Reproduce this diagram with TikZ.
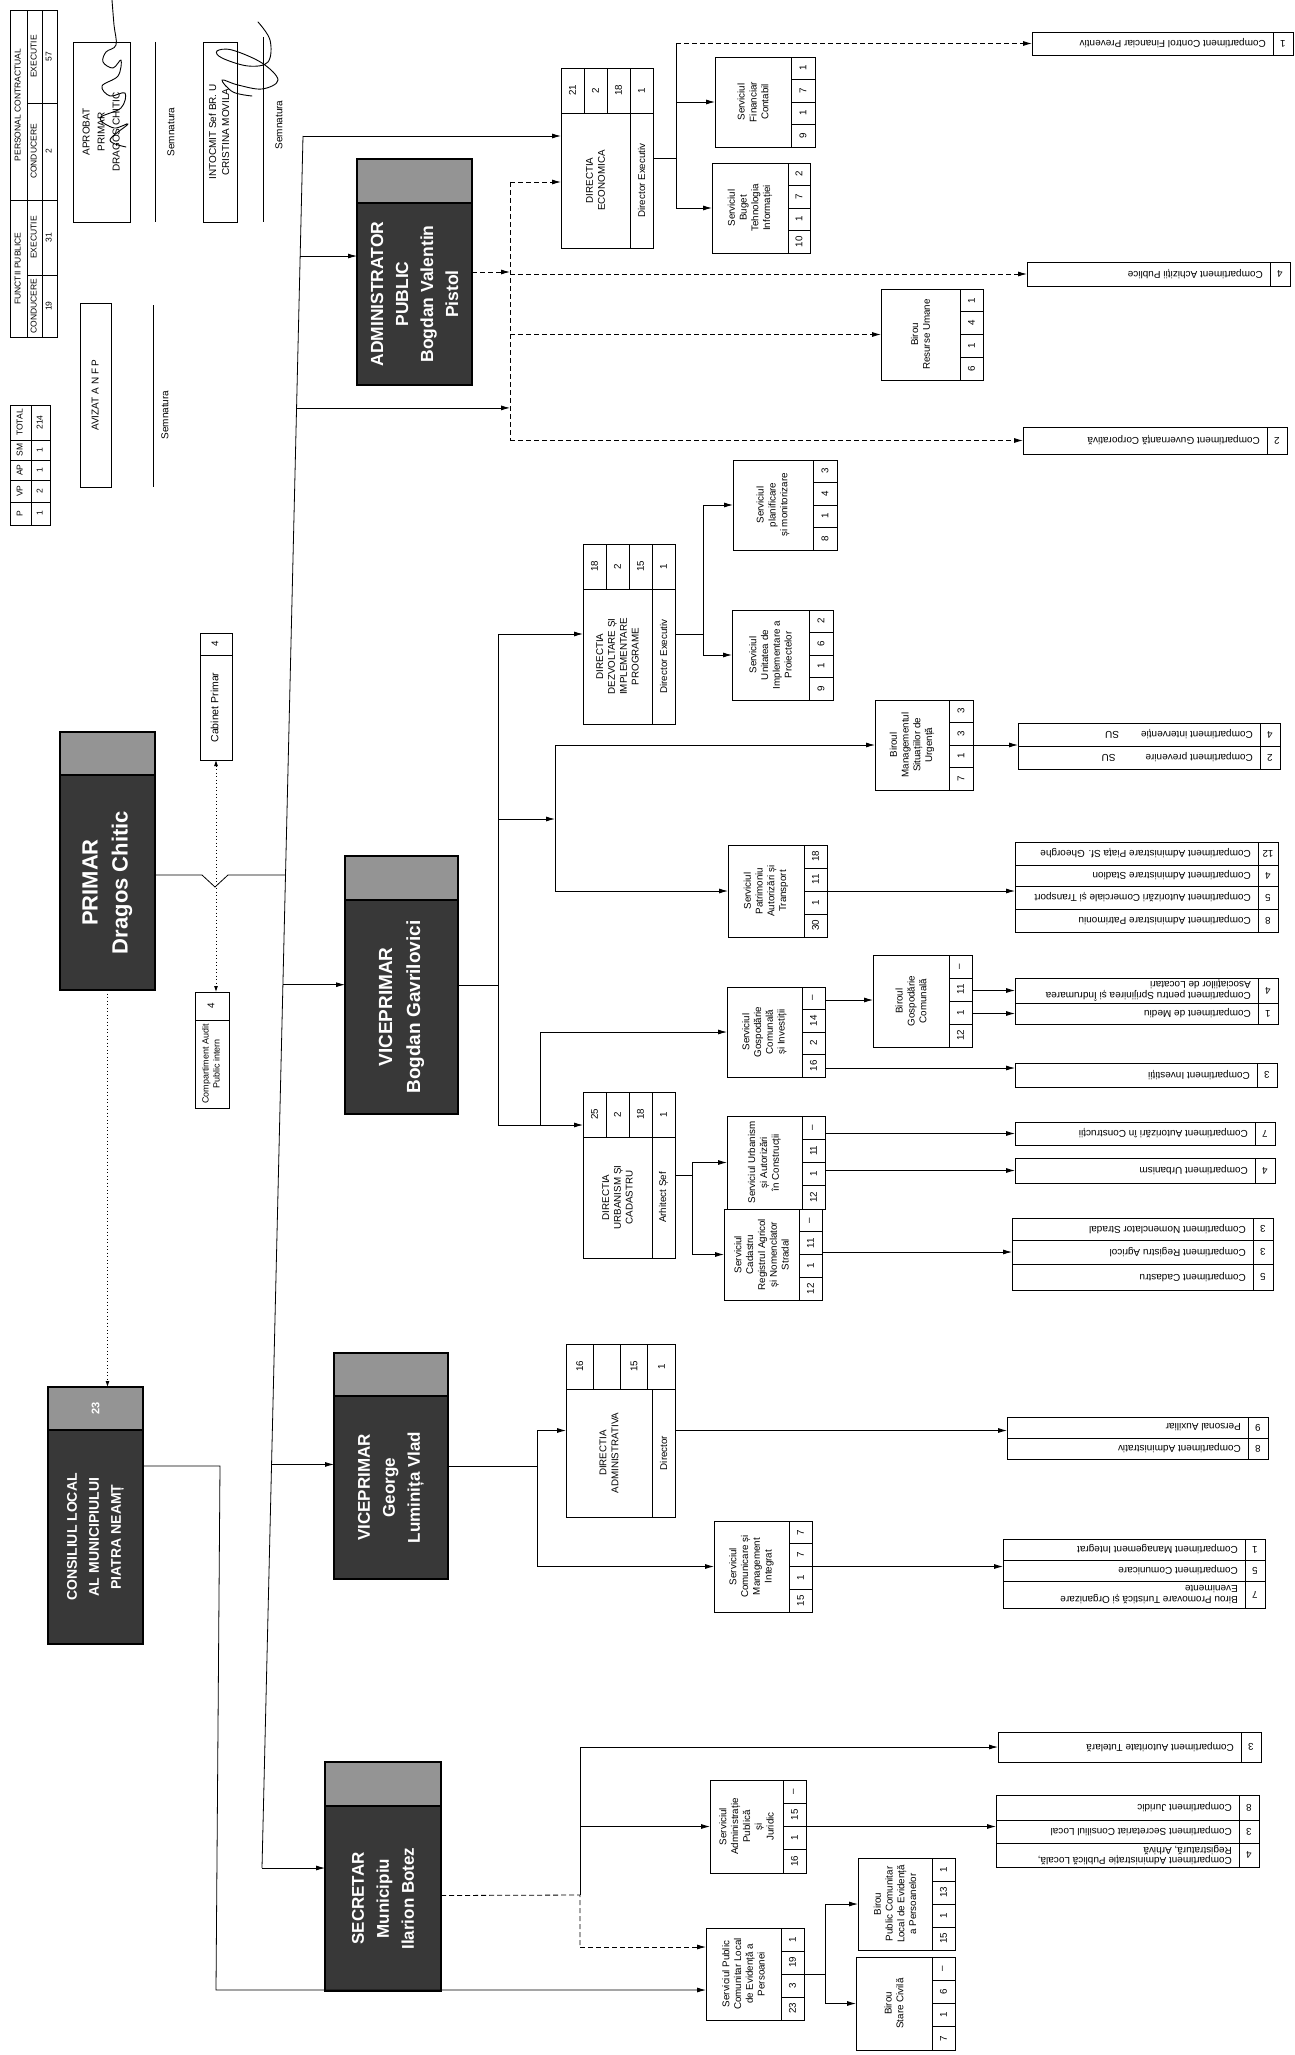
\documentclass[tikz,border=0pt]{standalone}
\usepackage{fontspec}
\setmainfont{Liberation Sans}
\usetikzlibrary{arrows.meta, calc}

\newcommand{\svcfont}{\fontsize{9.8}{11.8}\selectfont}
\newcommand{\compfont}{\fontsize{10}{10.5}\selectfont}
\newcommand{\numfont}{\fontsize{9.8}{11}\selectfont}
\newcommand{\tabfont}{\fontsize{8.5}{10}\selectfont}
\newcommand{\signfont}{\fontsize{10}{15}\selectfont}

\tikzset{
  box/.style={draw, line width=0.7pt, inner sep=0pt, outer sep=0pt},
  numcell/.style={box, font=\numfont},
  lbl/.style={rotate=90, align=center, font=\svcfont, inner sep=0pt},
  clbl/.style={rotate=180, anchor=west, align=left, font=\compfont, inner sep=0pt},
  leadbox/.style={box, fill=black!78, line width=1.2pt},
  leadhead/.style={box, fill=black!42, text=white, font=\bfseries\fontsize{11}{13}\selectfont, line width=1.2pt},
  leadtxt/.style={rotate=90, align=center, text=white, inner sep=0pt},
  conn/.style={line width=0.8pt},
  arr/.style={conn, -{Latex[length=9pt, width=5pt]}},
  dsh/.style={conn, dash pattern=on 5pt off 3pt},
  darr/.style={dsh, -{Latex[length=9pt, width=5pt]}},
  dotl/.style={conn, dash pattern=on 1pt off 2.5pt},
  sig/.style={line width=0.9pt, line cap=round, line join=round},
}

% plain cell, rotated text: [opts]{name}{x1}{y1}{x2}{y2}{text}
\newcommand{\cellbox}[7][]{%
  \node[box, anchor=north west, minimum width={#5-#3}, minimum height={#6-#4}, #1]
    (#2) at (#3,#4) {\rotatebox{90}{\begin{tabular}{@{}c@{}}#7\end{tabular}}};}

% service box with number column: {name}{x1}{y1}{x2}{y2}{cell w}{text}{numbers}
\newcommand{\svcbox}[8]{%
  \node[box, anchor=north west, minimum width={#4-#2}, minimum height={#5-#3}] (#1) at (#2,#3) {};
  \node[lbl] (#1-t) at ({(#2+#4-#6)/2},{(#3+#5)/2}) {#7};
  \foreach \n [count=\i] in {#8}
    \node[numcell, anchor=north west, minimum width=#6, minimum height={(#5-#3)/4}]
      (#1-c\i) at ({#4-#6},{#3+(\i-1)*(#5-#3)/4}) {\rotatebox{90}{\n}};}

% directia box: {name}{x1}{y1}{x2}{y2}{title}{role}{numbers}
\newcommand{\dirbox}[8]{%
  \node[box, anchor=north west, minimum width={#4-#2}, minimum height={#5-#3}] (#1) at (#2,#3) {};
  \foreach \n [count=\i] in {#8}
    \node[numcell, anchor=north west, minimum width={(#4-#2)/4}, minimum height=45]
      (#1-c\i) at ({#2+(\i-1)*(#4-#2)/4},#3) {\rotatebox{90}{\n}};
  \node[box, anchor=north east, minimum width=23, minimum height={#5-#3-45}, font=\svcfont]
    (#1-r) at (#4,{#3+45}) {\rotatebox{90}{#7}};
  \node[lbl] (#1-t) at ({(#2+#4-23)/2},{(#3+45+#5)/2}) {#6};}

% compartment row: {name}{x1}{y1}{x2}{y2}{text}{number}
\newcommand{\comprow}[7]{%
  \node[box, anchor=north west, minimum width={#4-#2}, minimum height={#5-#3}] (#1) at (#2,#3) {};
  \node[numcell, anchor=north east, minimum width=20, minimum height={#5-#3}] (#1-n) at (#4,#3) {\rotatebox{180}{#7}};
  \node[clbl] (#1-t) at ({#4-27},{(#3+#5)/2}) {#6};}

% leading box: {name}{x1}{y1}{x2}{y2}{header h}{header text}{font}{text}
\newcommand{\headbox}[9]{%
  \node[leadbox, anchor=north west, minimum width={#4-#2}, minimum height={#5-#3}] (#1) at (#2,#3) {};
  \node[leadhead, anchor=north west, minimum width={#4-#2}, minimum height=#6] (#1-h) at (#2,#3) {\rotatebox{90}{#7}};
  \node[leadtxt, font=#8] (#1-t) at ({(#2+#4)/2},{(#3+#6+#5)/2}) {#9};}

\begin{document}
\begin{tikzpicture}[x=1pt, y=-1pt]
    \fill[white] (0,0) rectangle (1295,2055);
    \useasboundingbox (0,0) rectangle (1295,2055);

    % Legend tables
    \cellbox[font=\tabfont]{pc}{10}{10}{27}{200}{PERSONAL CONTRACTUAL}
    \cellbox[font=\tabfont]{fp}{10}{200}{27}{337}{FUNCTII PUBLICE}
    \cellbox[font=\tabfont]{pc-e}{27}{10}{42}{103}{EXECUTIE}
    \cellbox[font=\tabfont]{pc-c}{27}{103}{42}{200}{CONDUCERE}
    \cellbox[font=\tabfont]{fp-e}{27}{200}{42}{275}{EXECUTIE}
    \cellbox[font=\tabfont]{fp-c}{27}{275}{42}{337}{CONDUCERE}
    \cellbox[font=\tabfont]{pc-en}{42}{10}{57}{103}{57}
    \cellbox[font=\tabfont]{pc-cn}{42}{103}{57}{200}{2}
    \cellbox[font=\tabfont]{fp-en}{42}{200}{57}{275}{31}
    \cellbox[font=\tabfont]{fp-cn}{42}{275}{57}{337}{19}
    \foreach \h/\v/\ya/\yb [count=\i] in {TOTAL/214/405/440, SM/1/440/460, AP/1/460/480, VP/2/480/502, P/1/502/525} {
        \cellbox[font=\tabfont]{tot-h\i}{10}{\ya}{31}{\yb}{\h}
        \cellbox[font=\tabfont]{tot-v\i}{31}{\ya}{50}{\yb}{\v}
    }

    % Approval boxes and signatures
    \cellbox[font=\signfont]{aprobat}{73}{42}{130}{222}{APROBAT\\PRIMAR\\DRAGOS CHITIC}
    \cellbox[font=\fontsize{10}{13}\selectfont]{intocmit}{203}{42}{237}{222}{INTOCMIT Sef BR. U\\CRISTINA MOVILA}
    \cellbox[font=\signfont]{avizat}{80}{303}{111}{487}{AVIZAT A N F P}
    \draw[conn] (155,42) -- (155,222);
    \draw[conn] (263,37) -- (263,222);
    \draw[conn] (153,305) -- (153,487);
    \node[rotate=90, font=\signfont] (semn1) at (171,132) {Semnatura};
    \node[rotate=90, font=\signfont] (semn2) at (279,125) {Semnatura};
    \node[rotate=90, font=\signfont] (semn3) at (165,415) {Semnatura};
    \draw[sig] plot[smooth, tension=0.6] coordinates {(112,0) (114,25) (116,45) (106,52) (103,62) (113,68) (121,60) (118,76) (102,86) (110,96) (125,93) (121,108) (100,118) (114,128) (128,124) (110,140) (126,147)};
    \draw[sig] plot[smooth, tension=0.6] coordinates {(258,22) (270,40) (268,62) (248,66) (222,58) (217,51) (232,50) (262,63) (278,80) (262,89) (238,85) (222,80) (233,92) (252,96)};

    % Primar, cabinet and audit
    \headbox{prim}{60}{732}{155}{990}{43}{}{\bfseries\fontsize{22}{30}\selectfont}{PRIMAR\\Dragos Chitic}
    \cellbox[font=\svcfont]{cab-n}{200}{633}{232}{655}{4}
    \cellbox[font=\fontsize{10.5}{12}\selectfont]{cab}{200}{655}{232}{760}{Cabinet Primar}
    \cellbox[font=\svcfont]{aud-n}{195}{992}{229}{1020}{4}
    \cellbox[font=\fontsize{9}{11}\selectfont]{aud}{195}{1020}{229}{1108}{Compartiment Audit\\Public intern}

    % Leading boxes
    \headbox{adm}{357}{159}{472}{385}{44}{}{\bfseries\fontsize{17.5}{25}\selectfont}{ADMINISTRATOR\\PUBLIC\\Bogdan Valentin\\Pistol}
    \headbox{vp1}{345}{856}{458}{1114}{44}{}{\bfseries\fontsize{19}{28}\selectfont}{VICEPRIMAR\\Bogdan Gavrilovici}
    \headbox{vp2}{334}{1353}{448}{1579}{43}{}{\bfseries\fontsize{17}{25}\selectfont}{VICEPRIMAR\\George\\Luminița Vlad}
    \headbox{sec}{325}{1762}{441}{1991}{44}{}{\bfseries\fontsize{17}{25}\selectfont}{SECRETAR\\Municipiu\\Ilarion Botez}
    \headbox{cons}{48}{1387}{143}{1644}{43}{23}{\bfseries\fontsize{14}{22}\selectfont}{CONSILIUL LOCAL\\AL MUNICIPIULUI\\PIATRA NEAMȚ}

    % Directii
    \dirbox{de}{561}{68}{653}{248}{DIRECTIA\\ECONOMICA}{Director Executiv}{21,2,18,1}
    \dirbox{ddip}{583}{544}{675}{724}{DIRECTIA\\DEZVOLTARE ȘI\\IMPLEMENTARE\\PROGRAME}{Director Executiv}{18,2,15,1}
    \dirbox{duc}{583}{1092}{675}{1258}{DIRECTIA\\URBANISM ȘI\\CADASTRU}{Arhitect Șef}{25,2,18,1}
    \dirbox{da}{566}{1344}{675}{1517}{DIRECTIA\\ADMINISTRATIVA}{Director}{16,{},15,1}

    % Servicii and birouri
    \svcbox{sfc}{715}{57}{815}{147}{24}{Serviciul\\Financiar\\Contabil}{1,7,1,9}
    \svcbox{sbti}{712}{163}{810}{253}{22}{Serviciul\\Buget\\Tehnologia\\Informației}{2,7,1,10}
    \svcbox{bru}{881}{289}{983}{380}{23}{Birou\\Resurse Umane}{1,4,1,6}
    \svcbox{spm}{733}{460}{837}{550}{24}{Serviciul\\planificare\\și monitorizare}{3,4,1,8}
    \svcbox{suip}{732}{610}{833}{700}{24}{Serviciul\\Unitatea de\\Implementare a\\Proiectelor}{2,6,1,9}
    \svcbox{smsu}{875}{700}{973}{790}{24}{Biroul\\Managementul\\Situațiilor de\\Urgență}{3,3,1,7}
    \svcbox{spat}{728}{845}{827}{937}{23}{Serviciul\\Patrimoniu\\Autorizări și\\Transport}{18,11,1,30}
    \svcbox{sgci}{727}{987}{825}{1077}{23}{Serviciul\\Gospodărie\\Comunală\\și Investiții}{--,14,2,16}
    \svcbox{bgc}{873}{955}{972}{1047}{23}{Biroul\\Gospodărie\\Comunală}{--,11,1,12}
    \svcbox{suac}{727}{1116}{825}{1209}{23}{Serviciul Urbanism\\și Autorizări\\în Construcții}{--,11,1,12}
    \svcbox{scr}{724}{1209}{822}{1300}{23}{Serviciul\\Cadastru\\Registrul Agricol\\și Nomenclator\\Stradal}{--,11,1,12}
    \svcbox{scmi}{714}{1521}{812}{1612}{23}{Serviciul\\Comunicare și\\Management\\Integrat}{7,7,1,15}
    \svcbox{sapj}{710}{1780}{806}{1873}{23}{Serviciul\\Administrație\\Publică\\și\\Juridic}{--,15,1,16}
    \svcbox{spc}{706}{1928}{804}{2020}{23}{Serviciul Public\\Comunitar Local\\de Evidență a\\Persoanei}{1,19,3,23}
    \svcbox{bpc}{858}{1858}{955}{1950}{23}{Birou\\Public Comunitar\\Local de Evidență\\a Persoanelor}{1,13,1,15}
    \svcbox{bsc}{856}{1957}{955}{2050}{23}{Birou\\Stare Civilă}{--,6,1,7}

    % Compartimente
    \comprow{ccfp}{1032}{32}{1293}{55}{Compartiment Control Financiar Preventiv}{1}
    \comprow{cap}{1027}{262}{1290}{286}{Compartiment Achiziții Publice}{4}
    \comprow{cgc}{1023}{427}{1287}{454}{Compartiment Guvernanță Corporativă}{2}
    \comprow{su1}{1018}{723}{1280}{746}{Compartiment intervenție\hspace{22pt}SU}{4}
    \comprow{su2}{1018}{746}{1280}{769}{Compartiment prevenire\hspace{30pt}SU}{2}
    \comprow{pa1}{1015}{842}{1278}{865}{Compartiment Administrare Piața Sf. Gheorghe}{12}
    \comprow{pa2}{1015}{865}{1278}{886}{Compartiment Administrare Stadion}{4}
    \comprow{pa3}{1015}{886}{1278}{909}{Compartiment Autorizări Comerciale și Transport}{5}
    \comprow{pa4}{1015}{909}{1278}{932}{Compartiment Administrare Patrimoniu}{8}
    \comprow{bg1}{1015}{978}{1278}{1003}{Compartiment pentru Sprijinirea și Îndrumarea\\Asociațiilor de Locatari}{4}
    \comprow{bg2}{1015}{1003}{1278}{1024}{Compartiment de Mediu}{1}
    \comprow{ci}{1015}{1063}{1277}{1087}{Compartiment Investiții}{3}
    \comprow{cac}{1015}{1122}{1275}{1145}{Compartiment Autorizări în Construcții}{7}
    \comprow{cu}{1015}{1158}{1275}{1183}{Compartiment Urbanism}{4}
    \comprow{cd1}{1012}{1218}{1273}{1240}{Compartiment Nomenclator Stradal}{3}
    \comprow{cd2}{1012}{1240}{1273}{1264}{Compartiment Registru Agricol}{3}
    \comprow{cd3}{1012}{1264}{1273}{1290}{Compartiment Cadastru}{5}
    \comprow{ad1}{1007}{1417}{1268}{1438}{Personal Auxiliar}{9}
    \comprow{ad2}{1007}{1438}{1268}{1459}{Compartiment Administrativ}{8}
    \comprow{cm1}{1003}{1539}{1265}{1560}{Compartiment Management Integrat}{1}
    \comprow{cm2}{1003}{1560}{1265}{1581}{Compartiment Comunicare}{5}
    \comprow{cm3}{1003}{1581}{1265}{1608}{Birou Promovare Turistică și Organizare\\Evenimente}{7}
    \comprow{cat}{998}{1732}{1261}{1762}{Compartiment Autoritate Tutelară}{3}
    \comprow{aj1}{996}{1795}{1259}{1820}{Compartiment Juridic}{8}
    \comprow{aj2}{996}{1820}{1259}{1843}{Compartiment Secretariat Consiliul Local}{3}
    \comprow{aj3}{996}{1843}{1259}{1867}{Compartiment Administrație Publică Locală,\\Registratură, Arhivă}{4}

    % Main spine
    \coordinate (sp-top) at (303,136);
    \coordinate (sp-bot) at (262,1868);
    \coordinate (sp-adm) at ($(sp-top)!0.0693!(sp-bot)$);
    \coordinate (sp-dv) at ($(sp-top)!0.157!(sp-bot)$);
    \coordinate (sp-prim) at ($(sp-top)!0.4267!(sp-bot)$);
    \coordinate (sp-vp1) at ($(sp-top)!0.490!(sp-bot)$);
    \coordinate (sp-vp2) at ($(sp-top)!0.767!(sp-bot)$);
    \draw[conn] (sp-top) -- (sp-bot);
    \draw[conn] ([yshift=-14pt]prim.east) -- ++(47,0) -- ++(13,12) -- ++(13,-12) -- (sp-prim);
    \draw[dotl, {Latex[length=6pt, width=4pt]}-{Latex[length=6pt, width=4pt]}] (cab.south) -- (cab.south |- aud-n.north);
    \draw[dotl, -{Latex[length=6pt, width=4pt]}] (prim.south) -- (prim.south |- cons.north);
    \draw[arr] (sp-top) -- (sp-top -| de.west);
    \draw[arr] (sp-adm) -- (sp-adm -| adm.west);
    \draw[arr] (sp-vp1) -- (sp-vp1 -| vp1.west);
    \draw[arr] (sp-vp2) -- (sp-vp2 -| vp2.west);
    \draw[arr] (sp-bot) -- (sp-bot -| sec.west);

    % Administrator public
    \coordinate (dv) at (510,182);
    \draw[dsh] (dv) -- (dv |- cgc.west);
    \draw[arr] (sp-dv) -- (sp-dv -| dv);
    \draw[darr] (adm.east) -- (adm.east -| dv);
    \draw[darr] (dv) -- (dv -| de.west);
    \draw[darr] (dv |- cap.west) -- (cap.west);
    \draw[darr] (dv |- bru.west) -- (bru.west);
    \draw[darr] (dv |- cgc.west) -- (cgc.west);
    \coordinate (de-v) at (676,0);
    \draw[conn] (de.east) -- (de.east -| de-v);
    \draw[conn] (de-v |- ccfp.west) -- (de-v |- sbti.west);
    \draw[arr] (de-v |- sfc.west) -- (sfc.west);
    \draw[arr] (de-v |- sbti.west) -- (sbti.west);
    \draw[darr] (de-v |- ccfp.west) -- (ccfp.west);

    % Viceprimar 1
    \coordinate (v1) at (498,0);
    \coordinate (duc-in) at (498,1125);
    \coordinate (sv1) at (555,819);
    \coordinate (sg-j) at (540,1125);
    \draw[conn] (vp1.east) -- (vp1.east -| v1);
    \draw[conn] (v1 |- ddip.west) -- (duc-in);
    \draw[arr] (v1 |- ddip.west) -- (ddip.west);
    \draw[arr] (duc-in) -- (duc-in -| duc.west);
    \draw[arr] (v1 |- sv1) -- (sv1);
    \draw[conn] (sv1 |- smsu.west) -- (sv1 |- spat.west);
    \draw[arr] (sv1 |- smsu.west) -- (smsu.west);
    \draw[arr] (sv1 |- spat.west) -- (spat.west);
    \draw[arr] (sg-j) |- (sgci.west);
    \coordinate (dd-v) at (703,0);
    \draw[conn] (ddip.east) -- (ddip.east -| dd-v);
    \draw[conn] (dd-v |- spm.west) -- (dd-v |- suip.west);
    \draw[arr] (dd-v |- spm.west) -- (spm.west);
    \draw[arr] (dd-v |- suip.west) -- (suip.west);
    \draw[arr] (smsu.east) -- (smsu.east -| su1.west);
    \draw[arr] (spat.east) -- (spat.east -| pa2.west);
    \draw[arr] ([yshift=32pt]sgci.east) -- ([yshift=32pt]sgci.east -| bgc.west);
    \draw[arr] ([yshift=-36pt]sgci.east) -- ([yshift=-36pt]sgci.east -| ci.west);
    \draw[arr] (bgc.east |- bg1.west) -- (bg1.west);
    \draw[arr] (bgc.east |- bg2.west) -- (bg2.west);
    \coordinate (du-v) at (692,0);
    \draw[conn] (duc.east) -- (duc.east -| du-v);
    \draw[conn] (du-v |- suac.west) -- (du-v |- scr.west);
    \draw[arr] (du-v |- suac.west) -- (suac.west);
    \draw[arr] (du-v |- scr.west) -- (scr.west);
    \draw[arr] (suac.east |- cac.west) -- (cac.west);
    \draw[arr] (suac.east |- cu.west) -- (cu.west);
    \draw[arr] (scr.east |- cd2.west) -- (cd2.west);

    % Viceprimar 2
    \coordinate (v2) at (537,0);
    \draw[conn] (vp2.east) -- (vp2.east -| v2);
    \draw[conn] (v2 |- da.west) -- (v2 |- scmi.west);
    \draw[arr] (v2 |- da.west) -- (da.west);
    \draw[arr] (v2 |- scmi.west) -- (scmi.west);
    \draw[arr] (da.east) -- (da.east -| ad1.west);
    \draw[arr] (scmi.east) -- (scmi.east -| cm2.west);

    % Secretar and consiliul local
    \coordinate (s-j) at (580,1895);
    \coordinate (s-d) at (580,1947);
    \draw[dsh] ([yshift=-19pt]sec.east) -- (s-j) -- (s-d);
    \draw[darr] (s-d) -- (s-d -| spc.west);
    \draw[conn] (s-j) -- (s-j |- cat.west);
    \draw[arr] (s-j |- cat.west) -- (cat.west);
    \draw[arr] (s-j |- sapj.west) -- (sapj.west);
    \draw[arr] (sapj.east) -- (sapj.east -| aj2.west);
    \coordinate (sc-v) at (825,0);
    \draw[conn] (spc.east) -- (spc.east -| sc-v);
    \draw[conn] (sc-v |- bpc.west) -- (sc-v |- bsc.west);
    \draw[arr] (sc-v |- bpc.west) -- (bpc.west);
    \draw[arr] (sc-v |- bsc.west) -- (bsc.west);
    \coordinate (c-a) at (220,1466);
    \coordinate (c-b) at (216,1990);
    \draw[arr] (cons.east |- c-a) -- (c-a) -- (c-b) -- (c-b -| spc.west);

\end{tikzpicture}
\end{document}
